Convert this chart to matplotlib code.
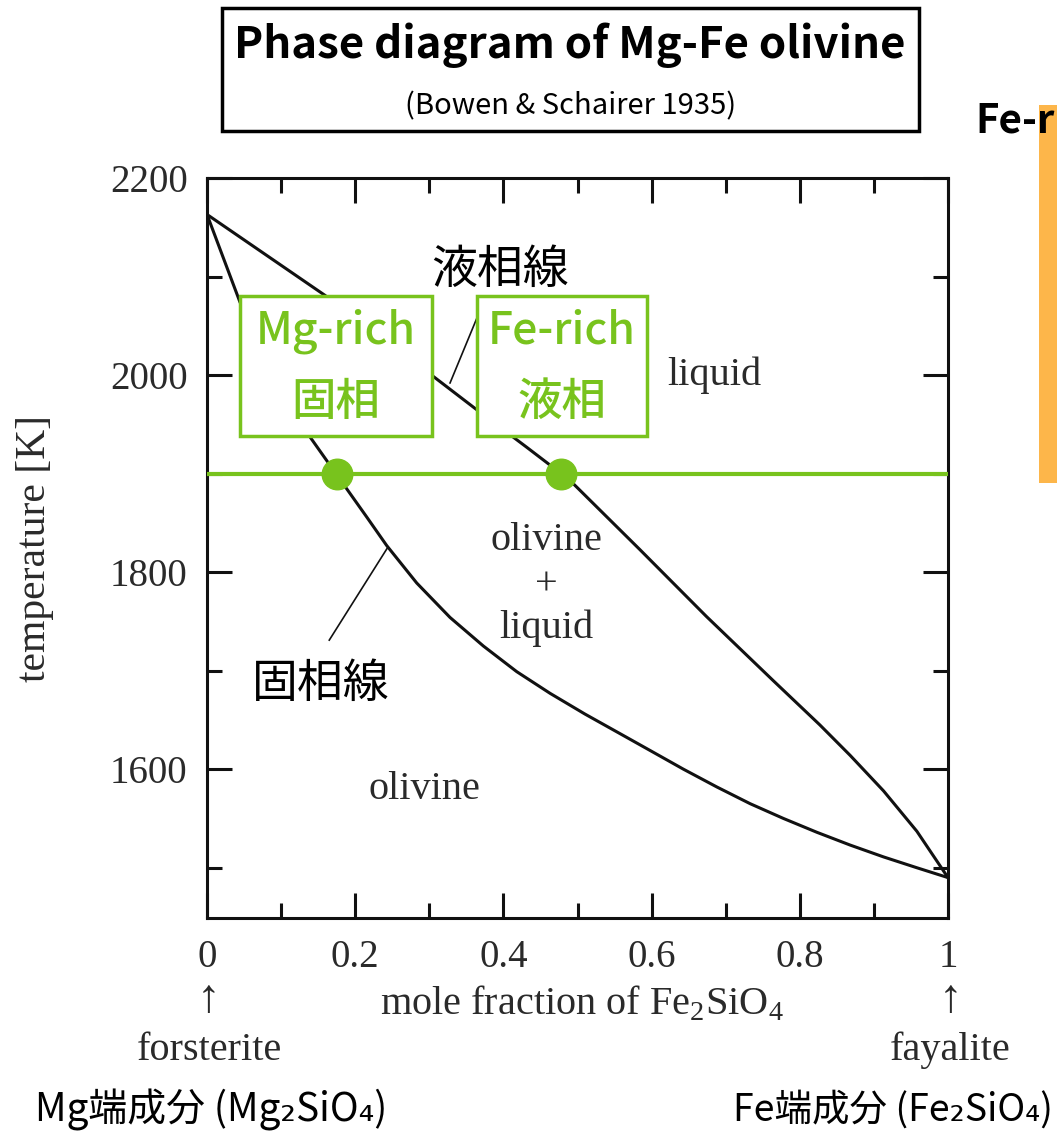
import matplotlib
matplotlib.use("Agg")
import matplotlib.pyplot as plt
from matplotlib.patches import Rectangle
import numpy as np

plt.rcParams['font.family'] = ['Liberation Serif', 'DejaVu Serif']
plt.rcParams['mathtext.fontset'] = 'custom'
plt.rcParams['mathtext.rm'] = 'Liberation Serif'

# liquidus / solidus (x = mole fraction Fe2SiO4, T in K)
liq_x = [0.0, 0.159, 0.303, 0.362, 0.431, 0.478, 0.494, 0.584, 0.674, 0.764,
         0.827, 0.868, 0.913, 0.958, 1.0]
liq_T = [2163, 2081, 2000, 1966, 1927, 1900, 1890, 1823, 1755, 1690,
         1645, 1614, 1578, 1537, 1490]
sol_x = [0.0, 0.0445, 0.1345, 0.174, 0.2155, 0.2425, 0.283, 0.328, 0.373, 0.418,
         0.463, 0.510, 0.560, 0.598, 0.643, 0.688, 0.733, 0.778, 0.823, 0.868,
         0.913, 0.958, 1.0]
sol_T = [2163, 2074, 1942, 1900, 1856, 1827, 1789, 1754, 1725, 1699,
         1677, 1656, 1635, 1619, 1600, 1582, 1565, 1550, 1536, 1523,
         1511, 1500, 1490]

tie_T = 1900
tie_x = [0.175, 0.478]

xticks = [0, 0.2, 0.4, 0.6, 0.8, 1]
xticklabels = ['0', '0.2', '0.4', '0.6', '0.8', '1']
yticks = [1600, 1800, 2000, 2200]

GREEN = '#78c31d'
INK = '#111111'
GREY = '#2a2a2a'
CJK = ['Noto Sans CJK JP', 'DejaVu Sans']

W, H = 1057, 1132
fig = plt.figure(figsize=(W / 100, H / 100), dpi=100)


def fx(px):
    return px / W


def fy(py):
    return 1 - py / H


ax = fig.add_axes([fx(207), fy(918), fx(948) - fx(207), fy(178) - fy(918)])
ax.plot(liq_x, liq_T, color=INK, lw=2.2, zorder=3)
ax.plot(sol_x, sol_T, color=INK, lw=2.2, zorder=3)
ax.axhline(tie_T, color=GREEN, lw=3, zorder=4)
ax.plot(tie_x, [tie_T] * len(tie_x), 'o', color=GREEN, ms=22, zorder=5)

# pointer lines for labels
ax.plot([0.328, 0.372], [1992, 2072], color=INK, lw=1.2, zorder=2)
ax.plot([0.243, 0.165], [1824, 1731], color=INK, lw=1.2, zorder=2)

ax.set_xlim(0, 1)
ax.set_ylim(1449, 2200)
ax.set_xticks(xticks)
ax.set_xticklabels(xticklabels)
ax.set_xticks(np.arange(0.1, 1.0, 0.2), minor=True)
ax.set_yticks(yticks)
ax.set_yticks([1500, 1700, 1900, 2100], minor=True)
ax.tick_params(which='both', direction='in', top=True, right=True, width=2.2,
               color=INK, labelsize=28, labelcolor=GREY)
ax.tick_params(which='major', length=18)
ax.tick_params(which='minor', length=11)
ax.tick_params(axis='x', pad=15)
ax.tick_params(axis='y', pad=14)
for s in ax.spines.values():
    s.set_linewidth(2.2)
    s.set_color(INK)

ax.set_ylabel('temperature [K]', fontsize=30, color=GREY)
ax.yaxis.set_label_coords(-0.207, 0.5)

ax.text(0.684, 2000, 'liquid', fontsize=29, color=GREY, ha='center', va='center')
ax.text(0.4575, 1832, 'olivine', fontsize=29, color=GREY, ha='center', va='center')
ax.text(0.4575, 1787, '+', fontsize=29, color=GREY, ha='center', va='center')
ax.text(0.4575, 1743, 'liquid', fontsize=29, color=GREY, ha='center', va='center')
ax.text(0.294, 1579, 'olivine', fontsize=29, color=GREY, ha='center', va='center')

# below the axis
fig.text(fx(582), fy(1004), r'mole fraction of Fe$_{\mathrm{2}}$SiO$_{\mathrm{4}}$',
         fontsize=29, color=GREY, ha='center', va='center')
fig.text(fx(208), fy(1001), '\u2191', fontsize=34, color=GREY, ha='center', va='center')
fig.text(fx(950), fy(1001), '\u2191', fontsize=34, color=GREY, ha='center', va='center')
fig.text(fx(209), fy(1050), 'forsterite', fontsize=29, color=GREY, ha='center', va='center')
fig.text(fx(950), fy(1050), 'fayalite', fontsize=29, color=GREY, ha='center', va='center')

fig.text(fx(35), fy(1110), 'Mg端成分 (Mg\u2082SiO\u2084)', family=CJK, fontsize=28,
         color='black', ha='left', va='center')
fig.text(fx(733), fy(1110), 'Fe端成分 (Fe\u2082SiO\u2084)', family=CJK, fontsize=27,
         color='black', ha='left', va='center')

# annotations
fig.text(fx(500), fy(270), '液相線', family=CJK, fontsize=33, ha='center', va='center')
fig.text(fx(321), fy(684), '固相線', family=CJK, fontsize=33, ha='center', va='center')

for x0, x1, top, bottom in [(240, 432, 'Mg-rich', '固相'), (477, 647, 'Fe-rich', '液相')]:
    fig.add_artist(Rectangle((fx(x0), fy(436)), fx(x1) - fx(x0), fy(296) - fy(436),
                             transform=fig.transFigure, facecolor='white',
                             edgecolor=GREEN, lw=2.5, zorder=5))
    cx = (x0 + x1) / 2
    fig.text(fx(cx), fy(331), top, family=CJK, fontsize=32, color=GREEN,
             weight='medium', ha='center', va='center', zorder=6)
    fig.text(fx(cx), fy(402), bottom, family=CJK, fontsize=32, color=GREEN,
             weight='medium', ha='center', va='center', zorder=6)

# title box
fig.add_artist(Rectangle((fx(222), fy(131)), fx(919) - fx(222), fy(8) - fy(131),
                         transform=fig.transFigure, facecolor='white',
                         edgecolor='black', lw=2.5, zorder=5))
fig.text(fx(570), fy(45), 'Phase diagram of Mg-Fe olivine', family=CJK, fontsize=31.5,
         weight='bold', ha='center', va='center', zorder=6)
fig.text(fx(571), fy(106), '(Bowen & Schairer 1935)', family=CJK, fontsize=21,
         ha='center', va='center', zorder=6)

# cut-off neighbour on the right
fig.add_artist(Rectangle((fx(1039), fy(483)), fx(1057) - fx(1039), fy(105) - fy(483),
                         transform=fig.transFigure, facecolor='#fdb64a',
                         edgecolor='none', zorder=5))
fig.text(fx(975), fy(121), 'Fe-r', family=CJK, fontsize=29, weight='bold',
         ha='left', va='center', zorder=6)

fig.savefig('out.png', dpi=100)
